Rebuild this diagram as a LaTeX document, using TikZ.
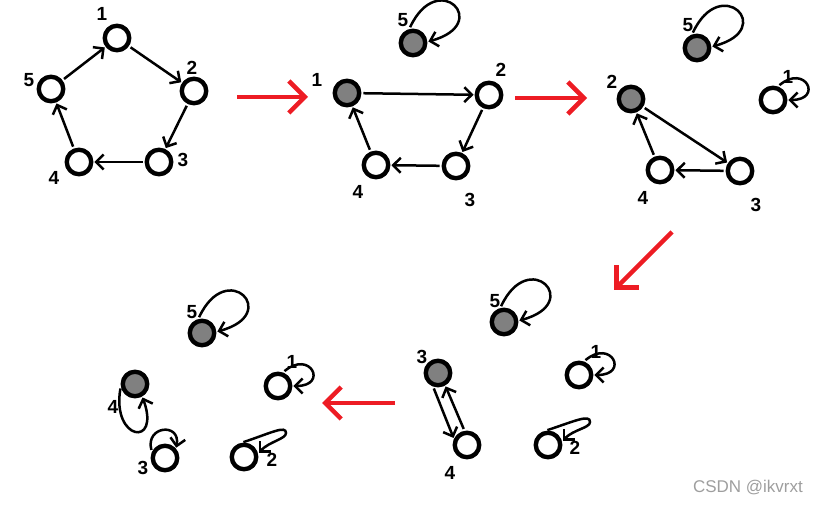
\documentclass[tikz,border=0pt]{standalone}
\usepackage{fontspec}
\setmainfont{Liberation Sans}
\usetikzlibrary{arrows.meta}
\definecolor{pred}{RGB}{237,28,36}
\definecolor{nfill}{RGB}{128,128,128}
\begin{document}
\begin{tikzpicture}[x=1pt,y=-1pt,
  vtx/.style={circle,draw,line width=4.4pt,minimum size=24.5pt,inner sep=0pt,fill=white},
  gvtx/.style={vtx,fill=nfill},
  lbl/.style={font=\bfseries\fontsize{19}{19}\selectfont,inner sep=0pt},
  edg/.style={line width=2.5pt,-{Straight Barb[length=7.5pt,width=15pt]},shorten <=2pt,shorten >=1pt},
  redarr/.style={pred,line width=4.5pt,-{Straight Barb[length=16pt,width=32pt]}},
  bigloop/.style={edg,out=65,in=15,distance=68pt},
  smallloop/.style={edg,out=40,in=0,distance=36pt},
]
\useasboundingbox (0,0) rectangle (823,505);

% ---- panel 1 ----
\node[vtx] (a1) at (117,38) {};
\node[vtx] (a2) at (194,91) {};
\node[vtx] (a3) at (159,162) {};
\node[vtx] (a4) at (79,162) {};
\node[vtx] (a5) at (51,89) {};
\node[lbl] (la1) at (102,14) {1};
\node[lbl] (la2) at (192,68) {2};
\node[lbl] (la3) at (183,160) {3};
\node[lbl] (la4) at (54,178) {4};
\node[lbl] (la5) at (29,80) {5};
\draw[edg] (a5) -- (a1);
\draw[edg] (a1) -- (a2);
\draw[edg] (a2) -- (a3);
\draw[edg] (a3) -- (a4);
\draw[edg] (a4) -- (a5);

% ---- panel 2 ----
\node[gvtx] (b5) at (413,43) {};
\node[gvtx] (b1) at (347,93) {};
\node[vtx] (b2) at (489,95) {};
\node[vtx] (b3) at (456,166) {};
\node[vtx] (b4) at (376,165) {};
\node[lbl] (lb5) at (403,20) {5};
\node[lbl] (lb1) at (317,80) {1};
\node[lbl] (lb2) at (501,70) {2};
\node[lbl] (lb3) at (470,200) {3};
\node[lbl] (lb4) at (358,192) {4};
\draw[edg] (b1) -- (b2);
\draw[edg] (b2) -- (b3);
\draw[edg] (b3) -- (b4);
\draw[edg] (b4) -- (b1);
\draw[bigloop] (b5.105) to (b5.5);

% ---- panel 3 ----
\node[gvtx] (c5) at (697,48) {};
\node[gvtx] (c2) at (631,99) {};
\node[vtx] (c1) at (773,100) {};
\node[vtx] (c3) at (740,171) {};
\node[vtx] (c4) at (660,170) {};
\node[lbl] (lc5) at (688,25) {5};
\node[lbl] (lc2) at (612,82) {2};
\node[lbl] (lc1) at (788,77) {1};
\node[lbl] (lc3) at (756,205) {3};
\node[lbl] (lc4) at (643,198) {4};
\draw[edg] (c2) -- (c3);
\draw[edg] (c3) -- (c4);
\draw[edg] (c4) -- (c2);
\draw[bigloop] (c5.110) to (c5.5);
\draw[smallloop] (c1.70) to (c1.0);

% ---- panel 4 (bottom right) ----
\node[gvtx] (e5) at (504,322) {};
\node[gvtx] (e3) at (438,373) {};
\node[vtx] (e1) at (579,375) {};
\node[vtx] (e4) at (467,445) {};
\node[vtx] (e2) at (548,445) {};
\node[lbl] (le5) at (495,301) {5};
\node[lbl] (le3) at (422,357) {3};
\node[lbl] (le1) at (596,352) {1};
\node[lbl] (le4) at (450,473) {4};
\node[lbl] (le2) at (575,448) {2};
\draw[edg] (e3.250) -- (e4.155);
\draw[edg] (e4.100) -- (e3.300);
\draw[bigloop] (e5.105) to (e5.5);
\draw[smallloop] (e1.70) to (e1.0);
\draw[edg] (e2.100) .. controls +(30,-10) and +(0,-8) .. ([shift={(42,-23)}]e2.center)
  .. controls +(0,6) and +(12,-12) .. (e2.15);

% ---- panel 5 (bottom left) ----
\node[gvtx] (d5) at (202,333) {};
\node[gvtx] (d4) at (135,384) {};
\node[vtx] (d1) at (278,386) {};
\node[vtx] (d3) at (165,458) {};
\node[vtx] (d2) at (244,457) {};
\node[lbl] (ld5) at (192,312) {5};
\node[lbl] (ld4) at (113,407) {4};
\node[lbl] (ld1) at (292,362) {1};
\node[lbl] (ld3) at (143,468) {3};
\node[lbl] (ld2) at (272,460) {2};
\draw[bigloop] (d5.105) to (d5.5);
\draw[smallloop] (d1.70) to (d1.0);
\draw[edg] (d2.100) .. controls +(30,-10) and +(0,-8) .. ([shift={(42,-24)}]d2.center)
  .. controls +(0,6) and +(12,-12) .. (d2.15);
\draw[edg] (d3.155) to[out=105,in=80,distance=27pt] (d3.40);
\draw[edg] (d4.190) to[out=260,in=290,distance=55pt] (d4.300);

% ---- red arrows ----
\coordinate (r1s) at (237,97);  \coordinate (r1e) at (308,97);
\coordinate (r2s) at (515,98);  \coordinate (r2e) at (587,98);
\coordinate (r3s) at (672,232); \coordinate (r3e) at (614,290);
\coordinate (r4s) at (395,403); \coordinate (r4e) at (322,403);
\draw[redarr] (r1s) -- (r1e);
\draw[redarr] (r2s) -- (r2e);
\draw[redarr] (r3s) -- (r3e);
\draw[redarr] (r4s) -- (r4e);

% ---- watermark ----
\node[font=\fontsize{17}{17}\selectfont,text=black!38,inner sep=0pt] (wm) at (748,488) {CSDN @ikvrxt};
\end{tikzpicture}
\end{document}
